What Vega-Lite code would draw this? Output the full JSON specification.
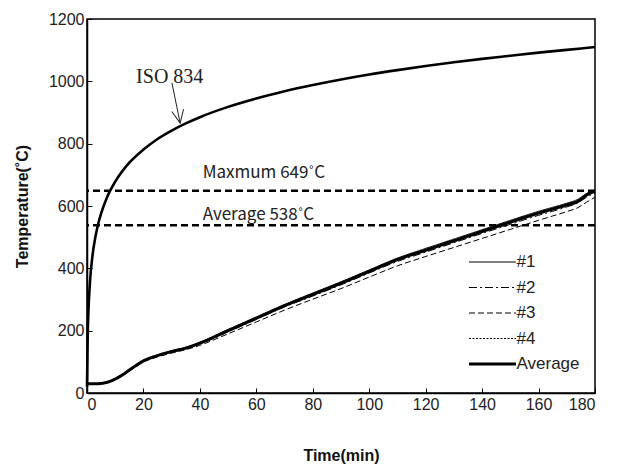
{
  "$schema": "https://vega.github.io/schema/vega-lite/v6.json",
  "width": 508,
  "height": 374,
  "autosize": {"type": "none"},
  "padding": {"left": 87, "top": 19, "right": 24, "bottom": 79},
  "background": "white",
  "config": {
    "view": {"stroke": "black", "strokeWidth": 1.5},
    "axis": {
      "grid": false,
      "domainColor": "black",
      "domainWidth": 1.5,
      "tickColor": "black",
      "tickSize": -5,
      "labelFont": "Liberation Sans",
      "labelFontSize": 16,
      "labelColor": "#222",
      "titleFont": "Liberation Sans",
      "titleFontSize": 16,
      "titleFontWeight": "bold",
      "titleColor": "#111",
      "format": "d"
    },
    "legend": {
      "labelFont": "Liberation Sans",
      "labelFontSize": 17,
      "labelColor": "#222"
    }
  },
  "datasets": {
    "iso": [
      {"t": 0, "T": 20}, {"t": 0.25, "T": 185}, {"t": 0.5, "T": 261}, {"t": 1, "T": 349},
      {"t": 2, "T": 445}, {"t": 3, "T": 502}, {"t": 4, "T": 544}, {"t": 5, "T": 576},
      {"t": 7, "T": 626}, {"t": 10, "T": 678}, {"t": 15, "T": 739}, {"t": 20, "T": 781},
      {"t": 25, "T": 815}, {"t": 30, "T": 842}, {"t": 35, "T": 865}, {"t": 40, "T": 885},
      {"t": 50, "T": 918}, {"t": 60, "T": 945}, {"t": 70, "T": 968}, {"t": 80, "T": 988},
      {"t": 90, "T": 1006}, {"t": 100, "T": 1022}, {"t": 110, "T": 1036}, {"t": 120, "T": 1049},
      {"t": 130, "T": 1061}, {"t": 140, "T": 1072}, {"t": 150, "T": 1082}, {"t": 160, "T": 1092},
      {"t": 170, "T": 1101}, {"t": 180, "T": 1110}
    ],
    "spec": [
      {"s": "#1", "t": 0, "T": 30}, {"s": "#1", "t": 4, "T": 31}, {"s": "#1", "t": 8, "T": 38}, {"s": "#1", "t": 12, "T": 57},
      {"s": "#1", "t": 16, "T": 82}, {"s": "#1", "t": 20, "T": 105}, {"s": "#1", "t": 25, "T": 122}, {"s": "#1", "t": 30, "T": 136},
      {"s": "#1", "t": 35, "T": 147}, {"s": "#1", "t": 40, "T": 163}, {"s": "#1", "t": 50, "T": 204}, {"s": "#1", "t": 60, "T": 244},
      {"s": "#1", "t": 70, "T": 284}, {"s": "#1", "t": 80, "T": 321}, {"s": "#1", "t": 90, "T": 357}, {"s": "#1", "t": 100, "T": 395},
      {"s": "#1", "t": 110, "T": 433}, {"s": "#1", "t": 120, "T": 464}, {"s": "#1", "t": 130, "T": 494}, {"s": "#1", "t": 140, "T": 524},
      {"s": "#1", "t": 150, "T": 554}, {"s": "#1", "t": 160, "T": 583}, {"s": "#1", "t": 165, "T": 596}, {"s": "#1", "t": 170, "T": 609},
      {"s": "#1", "t": 174, "T": 622}, {"s": "#1", "t": 177, "T": 640}, {"s": "#1", "t": 180, "T": 652},

      {"s": "#2", "t": 0, "T": 30}, {"s": "#2", "t": 4, "T": 30}, {"s": "#2", "t": 8, "T": 36}, {"s": "#2", "t": 12, "T": 53},
      {"s": "#2", "t": 16, "T": 78}, {"s": "#2", "t": 20, "T": 101}, {"s": "#2", "t": 25, "T": 118}, {"s": "#2", "t": 30, "T": 131},
      {"s": "#2", "t": 35, "T": 142}, {"s": "#2", "t": 40, "T": 157}, {"s": "#2", "t": 50, "T": 196}, {"s": "#2", "t": 60, "T": 236},
      {"s": "#2", "t": 70, "T": 276}, {"s": "#2", "t": 80, "T": 311}, {"s": "#2", "t": 90, "T": 347}, {"s": "#2", "t": 100, "T": 385},
      {"s": "#2", "t": 110, "T": 422}, {"s": "#2", "t": 120, "T": 452}, {"s": "#2", "t": 130, "T": 482}, {"s": "#2", "t": 140, "T": 512},
      {"s": "#2", "t": 150, "T": 541}, {"s": "#2", "t": 160, "T": 570}, {"s": "#2", "t": 165, "T": 583}, {"s": "#2", "t": 170, "T": 597},
      {"s": "#2", "t": 174, "T": 610}, {"s": "#2", "t": 177, "T": 628}, {"s": "#2", "t": 180, "T": 642},

      {"s": "#3", "t": 0, "T": 30}, {"s": "#3", "t": 4, "T": 30}, {"s": "#3", "t": 8, "T": 35}, {"s": "#3", "t": 12, "T": 52},
      {"s": "#3", "t": 16, "T": 76}, {"s": "#3", "t": 20, "T": 99}, {"s": "#3", "t": 25, "T": 116}, {"s": "#3", "t": 30, "T": 128},
      {"s": "#3", "t": 35, "T": 139}, {"s": "#3", "t": 40, "T": 153}, {"s": "#3", "t": 50, "T": 190}, {"s": "#3", "t": 60, "T": 228},
      {"s": "#3", "t": 70, "T": 266}, {"s": "#3", "t": 80, "T": 301}, {"s": "#3", "t": 90, "T": 335}, {"s": "#3", "t": 100, "T": 372},
      {"s": "#3", "t": 110, "T": 408}, {"s": "#3", "t": 120, "T": 438}, {"s": "#3", "t": 130, "T": 467}, {"s": "#3", "t": 140, "T": 496},
      {"s": "#3", "t": 150, "T": 525}, {"s": "#3", "t": 160, "T": 554}, {"s": "#3", "t": 165, "T": 568}, {"s": "#3", "t": 170, "T": 582},
      {"s": "#3", "t": 174, "T": 595}, {"s": "#3", "t": 177, "T": 612}, {"s": "#3", "t": 180, "T": 628},

      {"s": "#4", "t": 0, "T": 30}, {"s": "#4", "t": 4, "T": 31}, {"s": "#4", "t": 8, "T": 38}, {"s": "#4", "t": 12, "T": 56},
      {"s": "#4", "t": 16, "T": 81}, {"s": "#4", "t": 20, "T": 104}, {"s": "#4", "t": 25, "T": 121}, {"s": "#4", "t": 30, "T": 134},
      {"s": "#4", "t": 35, "T": 146}, {"s": "#4", "t": 40, "T": 162}, {"s": "#4", "t": 50, "T": 202}, {"s": "#4", "t": 60, "T": 242},
      {"s": "#4", "t": 70, "T": 283}, {"s": "#4", "t": 80, "T": 319}, {"s": "#4", "t": 90, "T": 356}, {"s": "#4", "t": 100, "T": 394},
      {"s": "#4", "t": 110, "T": 431}, {"s": "#4", "t": 120, "T": 462}, {"s": "#4", "t": 130, "T": 492}, {"s": "#4", "t": 140, "T": 522},
      {"s": "#4", "t": 150, "T": 552}, {"s": "#4", "t": 160, "T": 581}, {"s": "#4", "t": 165, "T": 594}, {"s": "#4", "t": 170, "T": 607},
      {"s": "#4", "t": 174, "T": 620}, {"s": "#4", "t": 177, "T": 638}, {"s": "#4", "t": 180, "T": 650},

      {"s": "Average", "t": 0, "T": 30}, {"s": "Average", "t": 4, "T": 30}, {"s": "Average", "t": 8, "T": 37}, {"s": "Average", "t": 12, "T": 55},
      {"s": "Average", "t": 16, "T": 80}, {"s": "Average", "t": 20, "T": 103}, {"s": "Average", "t": 25, "T": 120}, {"s": "Average", "t": 30, "T": 133},
      {"s": "Average", "t": 35, "T": 144}, {"s": "Average", "t": 40, "T": 160}, {"s": "Average", "t": 50, "T": 200}, {"s": "Average", "t": 60, "T": 240},
      {"s": "Average", "t": 70, "T": 280}, {"s": "Average", "t": 80, "T": 316}, {"s": "Average", "t": 90, "T": 352}, {"s": "Average", "t": 100, "T": 390},
      {"s": "Average", "t": 110, "T": 428}, {"s": "Average", "t": 120, "T": 458}, {"s": "Average", "t": 130, "T": 488}, {"s": "Average", "t": 140, "T": 518},
      {"s": "Average", "t": 150, "T": 548}, {"s": "Average", "t": 160, "T": 577}, {"s": "Average", "t": 165, "T": 590}, {"s": "Average", "t": 170, "T": 603},
      {"s": "Average", "t": 174, "T": 615}, {"s": "Average", "t": 177, "T": 635}, {"s": "Average", "t": 180, "T": 648}
    ],
    "limits": [{"T": 649}, {"T": 538}],
    "limitText": [
      {"t": 41, "T": 706, "label": "Maxmum 649˚C"},
      {"t": 41, "T": 571, "label": "Average 538˚C"}
    ],
    "isoText": [{"t": 17.4, "T": 1014, "label": "ISO 834"}],
    "arrow": [{"t": 30.1, "T": 995, "t2": 33, "T2": 866}]
  },
  "layer": [
    {
      "data": {"name": "iso"},
      "mark": {"type": "line", "color": "black", "strokeWidth": 2.6, "interpolate": "monotone"},
      "encoding": {
        "x": {"field": "t", "type": "quantitative", "scale": {"domain": [0, 180], "nice": false},
          "axis": {"title": "Time(min)", "values": [0, 20, 40, 60, 80, 100, 120, 140, 160, 180], "labelPadding": 8, "titleY": 62, "titleBaseline": "middle"}},
        "y": {"field": "T", "type": "quantitative", "scale": {"domain": [0, 1200], "nice": false},
          "axis": {"title": "Temperature(˚C)", "values": [0, 200, 400, 600, 800, 1000, 1200], "labelPadding": 8, "titleX": -65, "titleY": 187, "titleBaseline": "middle", "titleAngle": -90}}
      }
    },
    {
      "data": {"name": "spec"},
      "mark": {"type": "line", "color": "black", "interpolate": "monotone"},
      "encoding": {
        "x": {"field": "t", "type": "quantitative"},
        "y": {"field": "T", "type": "quantitative"},
        "detail": {"field": "s"},
        "strokeDash": {"field": "s", "type": "nominal",
          "scale": {"domain": ["#1", "#2", "#3", "#4", "Average"], "range": [[1, 0], [8, 3, 2, 3], [6, 3], [2, 1.5], [1, 0]]},
          "legend": {"title": null, "orient": "none", "legendX": 381.5, "legendY": 233, "symbolType": "stroke", "symbolSize": 2209, "symbolStrokeColor": "black", "clipHeight": 20, "rowPadding": 5.5, "labelOffset": 0,
            "encode": {"symbols": {"update": {"strokeWidth": {"signal": "(datum.value === 'Average' ? 3 : 1)"}}}}}},
        "strokeWidth": {"condition": {"test": "datum.s === 'Average'", "value": 3}, "value": 1}
      }
    },
    {
      "data": {"name": "limits"},
      "mark": {"type": "rule", "color": "black", "strokeWidth": 2.6, "strokeDash": [7, 4]},
      "encoding": {"y": {"field": "T", "type": "quantitative"}}
    },
    {
      "data": {"name": "limitText"},
      "mark": {"type": "text", "align": "left", "baseline": "middle", "font": "Noto Sans CJK KR", "fontSize": 17, "color": "#222"},
      "encoding": {
        "x": {"field": "t", "type": "quantitative"},
        "y": {"field": "T", "type": "quantitative"},
        "text": {"field": "label"}
      }
    },
    {
      "data": {"name": "isoText"},
      "mark": {"type": "text", "align": "left", "baseline": "middle", "font": "Liberation Serif", "fontSize": 20, "color": "#222"},
      "encoding": {
        "x": {"field": "t", "type": "quantitative"},
        "y": {"field": "T", "type": "quantitative"},
        "text": {"field": "label"}
      }
    },
    {
      "data": {"name": "arrow"},
      "mark": {"type": "rule", "color": "#222", "strokeWidth": 1},
      "encoding": {
        "x": {"field": "t", "type": "quantitative"},
        "y": {"field": "T", "type": "quantitative"},
        "x2": {"field": "t2"},
        "y2": {"field": "T2"}
      }
    },
    {
      "data": {"name": "arrow"},
      "mark": {"type": "point", "shape": "M-1.2,-2.6L0,0L1.2,-2.6", "size": 100, "filled": false, "stroke": "#222", "strokeWidth": 1, "angle": 349, "opacity": 1},
      "encoding": {
        "x": {"field": "t2", "type": "quantitative"},
        "y": {"field": "T2", "type": "quantitative"}
      }
    }
  ]
}
